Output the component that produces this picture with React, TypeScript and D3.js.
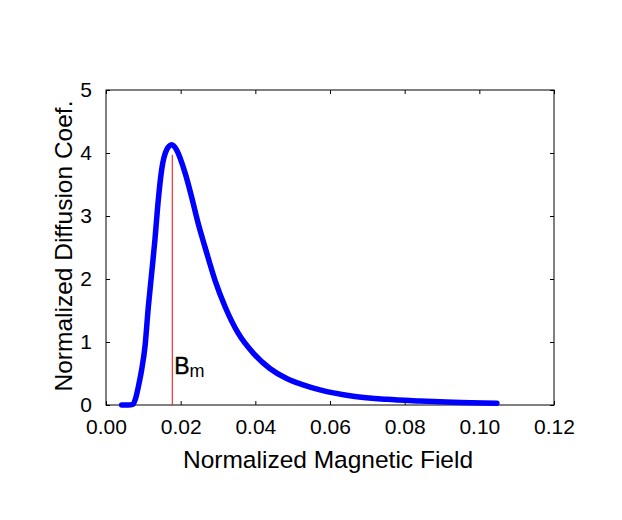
import React, { useEffect, useRef } from 'react';
import * as d3 from 'd3';

// field values (normalized) and diffusion coefficients
const field = [
  0.0042, 0.006, 0.0072, 0.008, 0.00866, 0.00955, 0.01045, 0.01134, 0.01223,
  0.0131, 0.014, 0.0149, 0.01625, 0.0176, 0.0189, 0.0212, 0.0229, 0.0247,
  0.0265, 0.0292, 0.0319, 0.0354, 0.0395, 0.0439, 0.0484, 0.0528, 0.0573,
  0.0662, 0.0752, 0.0841, 0.093, 0.1047,
];
const diffusion = [
  0, 0, 0.01, 0.12, 0.29, 0.56, 0.93, 1.56, 2.09, 2.62, 3.25, 3.73, 4.05,
  4.13, 4.05, 3.68, 3.31, 2.88, 2.51, 1.98, 1.56, 1.14, 0.82, 0.58, 0.42,
  0.32, 0.24, 0.14, 0.09, 0.063, 0.042, 0.027,
];
const xTicks = [0, 0.02, 0.04, 0.06, 0.08, 0.1, 0.12];
const yTicks = [0, 1, 2, 3, 4, 5];
const bPeak = 0.01775;
const bPeakTop = 3.97;

const width = 622;
const height = 520;
const margin = { top: 90, right: 68, bottom: 115, left: 106 };
const font = '"Liberation Sans", Arial, sans-serif';

const App: React.FC = () => {
  const svgRef = useRef<SVGSVGElement>(null);

  useEffect(() => {
    if (!svgRef.current) return;
    const svg = d3.select(svgRef.current);
    svg.selectAll('*').remove();

    const innerWidth = width - margin.left - margin.right;
    const innerHeight = height - margin.top - margin.bottom;

    const x = d3.scaleLinear().domain([0, 0.12]).range([0, innerWidth]);
    const y = d3.scaleLinear().domain([0, 5]).range([innerHeight, 0]);

    const g = svg
      .append('g')
      .attr('transform', `translate(${margin.left},${margin.top})`);

    const styleAxis = (sel: d3.Selection<SVGGElement, unknown, null, undefined>) => {
      sel.select('.domain').remove();
      sel.selectAll('line').attr('stroke', '#000').attr('stroke-width', 1);
      sel
        .selectAll('text')
        .style('font-family', font)
        .style('font-size', '21px')
        .attr('fill', '#000');
    };

    // bottom and left axes with inward ticks
    g.append('g')
      .attr('transform', `translate(0,${innerHeight})`)
      .call(
        d3.axisBottom(x).tickValues(xTicks).tickSize(-4).tickPadding(14)
          .tickFormat(d3.format('.2f'))
      )
      .call(styleAxis);

    g.append('g')
      .call(d3.axisLeft(y).tickValues(yTicks).tickSize(-4).tickPadding(14)
        .tickFormat(d3.format('d')))
      .call(styleAxis);

    // mirrored ticks on top and right
    g.append('g')
      .call(d3.axisTop(x).tickValues(xTicks).tickSize(-4).tickFormat(() => ''))
      .call(styleAxis);

    g.append('g')
      .attr('transform', `translate(${innerWidth},0)`)
      .call(d3.axisRight(y).tickValues(yTicks).tickSize(-4).tickFormat(() => ''))
      .call(styleAxis);

    g.append('rect')
      .attr('width', innerWidth)
      .attr('height', innerHeight)
      .attr('fill', 'none')
      .attr('stroke', '#000')
      .attr('stroke-width', 1);

    // B_m marker
    g.append('line')
      .attr('x1', x(bPeak))
      .attr('x2', x(bPeak))
      .attr('y1', y(0))
      .attr('y2', y(bPeakTop))
      .attr('stroke', '#ff0000')
      .attr('stroke-width', 1);

    const pts = field.map((f, i) => [f, diffusion[i]] as [number, number]);
    const line = d3
      .line<[number, number]>()
      .x(d => x(d[0]))
      .y(d => y(d[1]))
      .curve(d3.curveMonotoneX);

    g.append('path')
      .datum(pts)
      .attr('d', line)
      .attr('fill', 'none')
      .attr('stroke', '#0000ff')
      .attr('stroke-width', 5.5)
      .attr('stroke-linejoin', 'round')
      .attr('stroke-linecap', 'round');

    const label = g
      .append('text')
      .attr('x', x(bPeak) + 2)
      .attr('y', y(0.5))
      .style('font-family', font)
      .style('font-size', '23px')
      .style('stroke', '#000')
      .style('stroke-width', 0.4)
      .attr('fill', '#000');
    label.append('tspan').text('B');
    label
      .append('tspan')
      .attr('dy', 3)
      .style('font-size', '18px')
      .style('stroke-width', 0)
      .text('m');

    // axis titles
    svg
      .append('text')
      .attr('x', margin.left + innerWidth / 2 - 2)
      .attr('y', 468)
      .attr('text-anchor', 'middle')
      .style('font-family', font)
      .style('font-size', '24.5px')
      .attr('fill', '#000')
      .text('Normalized Magnetic Field');

    svg
      .append('text')
      .attr('transform', `translate(72,246) rotate(-90)`)
      .attr('text-anchor', 'middle')
      .style('font-family', font)
      .style('font-size', '24.5px')
      .attr('fill', '#000')
      .text('Normalized Diffusion Coef.');
  }, []);

  return (
    <svg
      ref={svgRef}
      width={width}
      height={height}
      style={{ position: 'absolute', left: 0, top: 0, background: '#fff' }}
    />
  );
};

export default App;
